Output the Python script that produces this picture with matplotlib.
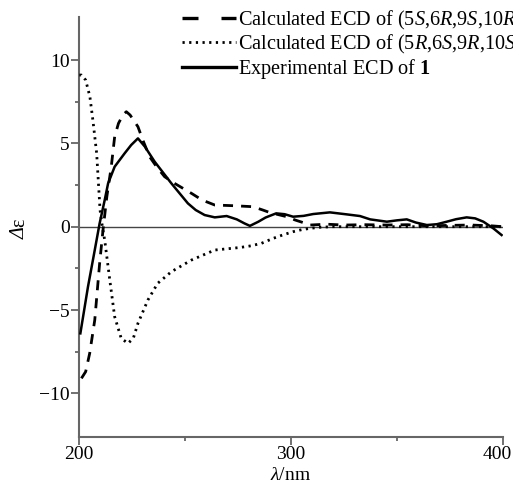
import matplotlib
matplotlib.use("Agg")
import matplotlib.pyplot as plt
from matplotlib.lines import Line2D
from matplotlib.transforms import ScaledTranslation


# ************ #
# *** DATA *** #
# ************ #

# calculated ECD of (5S,6R,9S,10R) - dashed
wlA = [201, 203, 204.9, 207.3, 209.6, 211.2, 213, 215.1, 216.7, 218.5, 220.6, 222.2, 224, 227.7,
       230, 233.2, 236.5, 240.3, 245, 253, 258, 264, 272.8, 282, 286.7, 290, 294.8, 298, 302,
       305.9, 309, 316.8, 325, 335, 345, 355, 365, 375, 385, 395, 400]
epsA = [-9.1, -8.7, -7.6, -5.6, -2.2, -0.2, 1.8, 3.6, 5.4, 6.2, 6.7, 6.9, 6.7, 6.0,
        5.2, 4.2, 3.6, 3.0, 2.6, 2.0, 1.6, 1.3, 1.26, 1.2, 1.0, 0.85, 0.7, 0.6, 0.4,
        0.24, 0.1, 0.15, 0.1, 0.12, 0.1, 0.12, 0.05, 0.08, 0.1, 0.05, 0.0]

# calculated ECD of (5R,6S,9R,10S) - dotted
wlB = [200, 201, 203, 205, 206.5, 208.2, 209.8, 211, 212, 214.4, 216.7, 219.8, 223, 225.5,
       227.7, 232.4, 237, 243.5, 253, 264, 275.8, 281, 286, 291.6, 296, 301, 305, 309, 314,
       320, 340, 360, 380, 400]
epsB = [9.1, 9.1, 8.8, 7.8, 6.3, 4.4, 1.0, -0.1, -0.8, -3.2, -5.4, -6.7, -7.0, -6.7,
        -5.8, -4.4, -3.4, -2.7, -2.0, -1.4, -1.25, -1.15, -1.0, -0.7, -0.5, -0.3, -0.18, -0.1, -0.03,
        0.0, 0.0, 0.0, 0.0, 0.0]

# experimental ECD of 1 - solid
wlC = [200.5, 204.1, 207.3, 209.6, 212, 213.6, 216.7, 221.4, 224.5, 227.7, 231, 235.6, 243.5,
       251.3, 255, 259.2, 264, 269.6, 274.4, 278, 280.6, 284.6, 288, 293, 297, 301, 306, 310.5,
       318.4, 326.3, 332.6, 337.4, 345.3, 350, 354.7, 359, 364.2, 369, 373.6, 378, 383, 387,
       390.9, 395.6, 399.5]
epsC = [-6.4, -3.6, -1.4, 0.2, 1.6, 2.6, 3.6, 4.4, 4.9, 5.3, 4.8, 3.9, 2.6,
        1.4, 1.0, 0.7, 0.56, 0.64, 0.44, 0.2, 0.05, 0.3, 0.55, 0.8, 0.75, 0.6, 0.65, 0.76,
        0.86, 0.74, 0.64, 0.44, 0.3, 0.38, 0.44, 0.25, 0.1, 0.15, 0.3, 0.45, 0.56, 0.5,
        0.3, -0.1, -0.5]

labelA = r"Calculated ECD of (5$\mathit{S}$,6$\mathit{R}$,9$\mathit{S}$,10$\mathit{R}$)"
labelB = r"Calculated ECD of (5$\mathit{R}$,6$\mathit{S}$,9$\mathit{R}$,10$\mathit{S}$)"
labelC = r"Experimental ECD of $\mathbf{1}$"


# ************* #
# *** STYLE *** #
# ************* #

plt.rcParams["font.family"] = ["Liberation Serif", "DejaVu Serif"]
plt.rcParams["mathtext.fontset"] = "custom"
plt.rcParams["mathtext.rm"] = "Liberation Serif"
plt.rcParams["mathtext.it"] = "Liberation Serif:italic"
plt.rcParams["mathtext.bf"] = "Liberation Serif:bold"
plt.rcParams["font.size"] = 14

SPINE = "#666666"
DASH = (0, (3.6, 2.9))
DOT = (0, (0.8, 1.6))


# ************ #
# *** PLOT *** #
# ************ #

fig = plt.figure(figsize=(5.13, 4.9), dpi=100)
ax = fig.add_axes([0.1546, 0.1088, 0.8252, 0.8571])

ax.axhline(0, color="#444444", lw=1.0, zorder=1)

ax.plot(wlA, epsA, color="black", lw=2.0, linestyle=DASH, zorder=3)
ax.plot(wlB, epsB, color="black", lw=2.0, linestyle=DOT, zorder=3)
ax.plot(wlC, epsC, color="black", lw=1.8, linestyle="-", zorder=4)

ax.set_xlim(200, 400)
ax.set_ylim(-12.6, 12.6)
ax.set_xticks([200, 300, 400])
ax.set_xticks([250, 350], minor=True)
ax.set_yticks([-10, -5, 0, 5, 10])
ax.set_yticks([-7.5, -2.5, 2.5, 7.5], minor=True)
ax.set_yticklabels(["\u221210", "\u22125", "0", "5", "10"])

ax.spines["top"].set_visible(False)
ax.spines["right"].set_visible(False)
for s in ("left", "bottom"):
    ax.spines[s].set_color(SPINE)
    ax.spines[s].set_linewidth(1.5)

ax.tick_params(which="major", direction="out", length=6, width=1.3, color=SPINE, pad=1)
ax.tick_params(which="minor", direction="out", length=3, width=1.3, color=SPINE)

# last tick label sits a bit to the left so it stays in the picture
lbl = ax.get_xticklabels()[-1]
lbl.set_transform(lbl.get_transform() + ScaledTranslation(-4 / 72, 0, fig.dpi_scale_trans))

ax.set_xlabel(r"$\mathit{\lambda}$/nm", labelpad=2.3)

# y label: italic Delta + upright epsilon
ax.text(-0.14, 0.5, "\u0394", rotation=90, style="italic", transform=ax.transAxes,
        ha="center", va="top", fontsize=14.5)
ax.text(-0.14, 0.5, "\u03b5", rotation=90, transform=ax.transAxes,
        ha="center", va="bottom", fontsize=14.5)

# legend handles (the dashed sample has longer dashes than the curve)
hA = Line2D([], [], color="black", lw=2.4, linestyle=(0, (4.8, 6.9)))
hB = Line2D([], [], color="black", lw=2.0, linestyle=DOT)
hC = Line2D([], [], color="black", lw=2.4, linestyle="-")
ax.legend([hA, hB, hC], [labelA, labelB, labelC],
          loc="upper left", bbox_to_anchor=(182 / 513, 1 - 9 / 490), bbox_transform=fig.transFigure,
          frameon=False, fontsize=14.6, handlelength=2.65, handletextpad=0.1, labelspacing=0.05,
          borderpad=0, borderaxespad=0)

plt.savefig("out.png", dpi=100)
plt.close(fig)
